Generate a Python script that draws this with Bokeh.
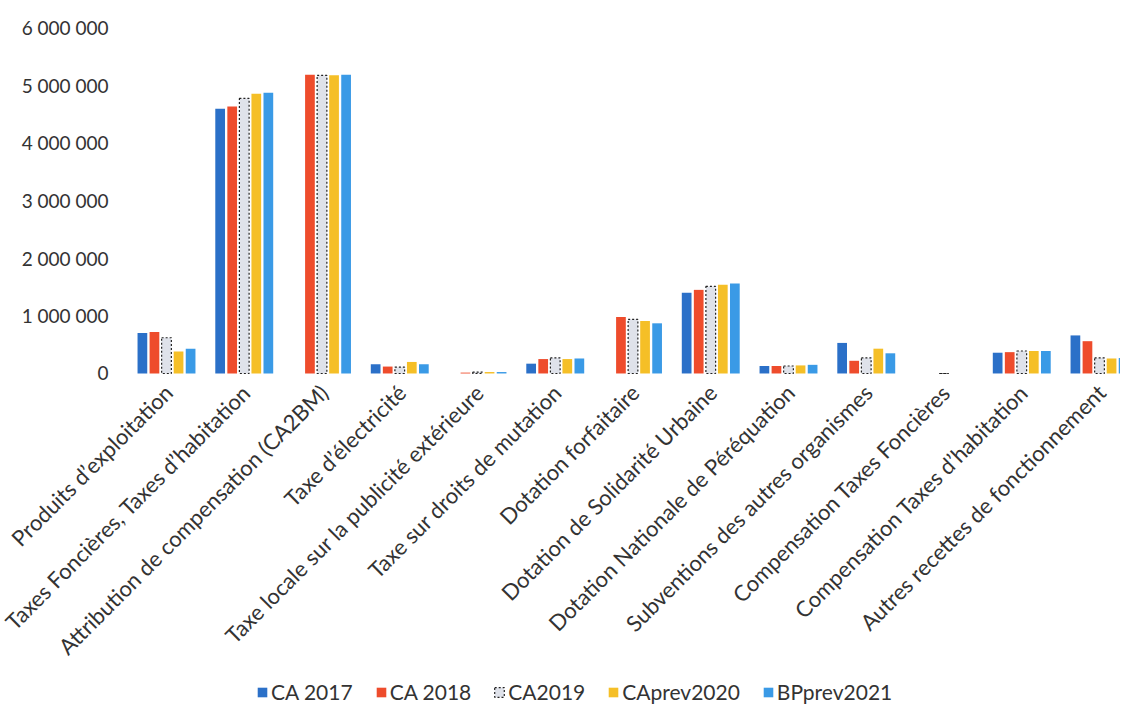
import math
from bokeh.plotting import figure
from bokeh.models import Range1d, Legend, LegendItem, ColumnDataSource
from bokeh.core.properties import value
from bokeh.transform import dodge
from bokeh.embed import file_html
from bokeh.resources import INLINE

categories = [
    "Produits d’exploitation",
    "Taxes Foncières, Taxes d’habitation",
    "Attribution de compensation (CA2BM)",
    "Taxe d’électricité",
    "Taxe locale sur la publicité extérieure",
    "Taxe sur droits de mutation",
    "Dotation forfaitaire",
    "Dotation de Solidarité Urbaine",
    "Dotation Nationale de Péréquation",
    "Subventions des autres organismes",
    "Compensation Taxes Foncières",
    "Compensation Taxes d’habitation",
    "Autres recettes de fonctionnement",
]
series_names = ["CA 2017", "CA 2018", "CA2019", "CAprev2020", "BPprev2021"]
ca2017 = [700000, 4590000, 0, 160000, 0, 170000, 0, 1400000, 130000, 530000, 0, 360000, 660000]
ca2018 = [720000, 4630000, 5180000, 120000, 15000, 250000, 980000, 1450000, 130000, 220000, 0, 370000, 560000]
ca2019 = [620000, 4770000, 5170000, 110000, 25000, 270000, 940000, 1510000, 130000, 270000, 0, 390000, 270000]
caprev2020 = [380000, 4850000, 5170000, 200000, 25000, 250000, 910000, 1540000, 140000, 430000, 0, 390000, 260000]
bpprev2021 = [430000, 4870000, 5180000, 160000, 25000, 260000, 870000, 1560000, 150000, 350000, 0, 390000, 270000]
y_ticks = [0, 1000000, 2000000, 3000000, 4000000, 5000000, 6000000]
y_tick_labels = [f"{v:,}".replace(",", " ") for v in y_ticks]

FONT = "Lato"
TXT = "#333333"

positions = list(range(len(categories)))
src = ColumnDataSource(dict(
    pos=positions,
    ca2017=ca2017, ca2018=ca2018, ca2019=ca2019,
    caprev2020=caprev2020, bpprev2021=bpprev2021,
))

# single frame covering the whole canvas; tick labels drawn as text through the scales
p = figure(frame_width=1120, frame_height=706,
           x_range=Range1d(-2.135, 12.27), y_range=Range1d(-5775000, 6468000),
           output_backend="svg", toolbar_location=None,
           x_axis_location=None, y_axis_location=None,
           min_border_left=0, min_border_top=0, min_border_right=0,
           min_border_bottom=0)
p.grid.grid_line_color = None
p.outline_line_color = None

cols = ["ca2017", "ca2018", "ca2019", "caprev2020", "bpprev2021"]
fills = ["#2b70c8", "#ee4c2c", "#dfe2ea", "#f5bf27", "#3a9ae6"]
offsets = [-0.31, -0.155, 0.0, 0.155, 0.31]
renderers = []
for col, fc, off in zip(cols, fills, offsets):
    if col == "ca2019":
        r = p.vbar(x=dodge("pos", off, range=p.x_range), top=col, width=0.125,
                   source=src, fill_color=fc, line_color="#222222",
                   line_width=1.2, line_dash="2 2")
    else:
        r = p.vbar(x=dodge("pos", off, range=p.x_range), top=col, width=0.125,
                   source=src, fill_color=fc, line_color=None)
    renderers.append(r)

# y tick labels
p.text(x=[-2.135] * len(y_ticks), y=y_ticks, text=y_tick_labels,
       x_offset=108, text_align="right", text_baseline="middle",
       text_font=value(FONT), text_font_size="19px", text_color=TXT)

# category labels, rotated 45 degrees
p.text(x=positions, y=[0] * len(categories), text=categories,
       angle=math.pi / 4, x_offset=2, y_offset=15,
       text_align="right", text_baseline="middle",
       text_font=value(FONT), text_font_size="22px", text_color=TXT)

legend = Legend(
    items=[LegendItem(label=n, renderers=[r]) for n, r in zip(series_names, renderers)],
    orientation="horizontal", location=(256, 2),
    label_text_font=FONT, label_text_font_size="21px", label_text_color=TXT,
    glyph_width=12, glyph_height=12, label_standoff=3, spacing=22,
    border_line_color=None, background_fill_alpha=0, padding=2, margin=0,
)
p.add_layout(legend, "center")

open("out.html", "w").write(file_html(p, INLINE))
